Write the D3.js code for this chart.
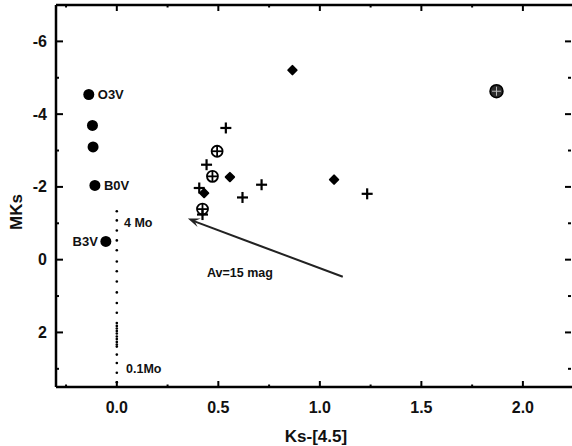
<!DOCTYPE html>
<html><head><meta charset="utf-8">
<script src="https://cdn.jsdelivr.net/npm/d3@7"></script>
<style>body{margin:0;background:#fff}svg{display:block}text{font-family:"Liberation Sans",Arial,sans-serif;font-weight:bold;fill:#111}</style>
</head><body><div id="chart"></div>
<script>
// Main-sequence stars (filled circles)
const msX = [-0.138, -0.12, -0.117, -0.108, -0.054];
const msY = [-4.54, -3.69, -3.10, -2.04, -0.50];
const msLabels = ["O3V", "", "", "B0V", "B3V"];
// Pre-main-sequence track at Ks-[4.5]=0 (dotted)
const pmsY = [-1.33, -1.08, -0.80, -0.53, -0.26, 0.05, 0.32, 0.60, 0.90, 1.19, 1.46, 1.74, 1.82, 1.89, 1.96, 2.03, 2.11, 2.18, 2.26, 2.33, 2.39, 2.61, 2.84, 3.11, 3.37];
// Plus sources
const plusX = [0.537, 0.442, 0.406, 0.422, 0.619, 0.713, 1.233];
const plusY = [-3.62, -2.61, -1.97, -1.24, -1.71, -2.06, -1.81];
// Circled-plus sources
const cplusX = [0.494, 0.471, 0.422];
const cplusY = [-2.98, -2.29, -1.39];
// Diamond sources
const diaX = [0.557, 0.43, 1.07, 0.865];
const diaY = [-2.27, -1.83, -2.20, -5.21];
// Large filled circled-plus
const bigX = [1.87];
const bigY = [-4.63];
// Reddening vector Av = 15 mag
const arrowFrom = [1.113, 0.47];
const arrowTo = [0.35, -1.13];
const xTicks = [0.0, 0.5, 1.0, 1.5, 2.0];
const yTicks = [-6, -4, -2, 0, 2];
const xMinor = [-0.25, 0.25, 0.75, 1.25, 1.75];
const yMinor = [-5, -3, -1, 1, 3];

const W = 572, H = 446;
const svg = d3.select("#chart").append("svg").attr("width", W).attr("height", H);
const L = 56, R = 573, T = 5, B = 387;
const x = d3.scaleLinear().domain([-0.3, 2.25]).range([L - 0.1, R + 0.65]);
const y = d3.scaleLinear().domain([-7, 3.5]).range([T, B]);

// frame
const g = svg.append("g");
g.append("line").attr("x1", L).attr("x2", L).attr("y1", T).attr("y2", B).attr("stroke", "#000").attr("stroke-width", 2.5);
g.append("line").attr("x1", L).attr("x2", W).attr("y1", B).attr("y2", B).attr("stroke", "#000").attr("stroke-width", 2.5);
g.append("line").attr("x1", L).attr("x2", W).attr("y1", T).attr("y2", T).attr("stroke", "#000").attr("stroke-width", 2.5);

// major ticks (inward) on all sides
const tk = svg.append("g").attr("stroke", "#000").attr("stroke-width", 2);
xTicks.forEach(v => {
  tk.append("line").attr("x1", x(v)).attr("x2", x(v)).attr("y1", B).attr("y2", B - 6);
  tk.append("line").attr("x1", x(v)).attr("x2", x(v)).attr("y1", T).attr("y2", T + 6);
});
yTicks.forEach(v => {
  tk.append("line").attr("x1", L).attr("x2", L + 7).attr("y1", y(v)).attr("y2", y(v));
  tk.append("line").attr("x1", 571).attr("x2", 565).attr("y1", y(v)).attr("y2", y(v));
});
xMinor.forEach(v => {
  tk.append("line").attr("x1", x(v)).attr("x2", x(v)).attr("y1", B).attr("y2", B - 2.5);
  tk.append("line").attr("x1", x(v)).attr("x2", x(v)).attr("y1", T).attr("y2", T + 2.5);
});
yMinor.forEach(v => {
  tk.append("line").attr("x1", L).attr("x2", L + 3).attr("y1", y(v)).attr("y2", y(v));
  tk.append("line").attr("x1", 571).attr("x2", 568).attr("y1", y(v)).attr("y2", y(v));
});

// tick labels
svg.append("g").selectAll("text").data(xTicks).join("text")
  .attr("x", d => x(d)).attr("y", 413).attr("text-anchor", "middle").attr("font-size", 16)
  .text(d => d.toFixed(1));
svg.append("g").selectAll("text").data(yTicks).join("text")
  .attr("x", 47).attr("y", d => y(d) + 5.5).attr("text-anchor", "end").attr("font-size", 16)
  .text(d => d < 0 ? "-" + Math.abs(d) : String(d));

// axis titles
svg.append("text").attr("x", 316).attr("y", 442).attr("text-anchor", "middle").attr("font-size", 17).text("Ks-[4.5]");
svg.append("text").attr("transform", "translate(22,212) rotate(-90)").attr("text-anchor", "middle").attr("font-size", 17).text("MKs");

// dotted track
svg.append("g").selectAll("circle").data(pmsY).join("circle")
  .attr("cx", x(0)).attr("cy", d => y(d)).attr("r", 1.3).attr("fill", "#000");
svg.append("text").attr("x", 124).attr("y", 227).attr("font-size", 12.5).text("4 Mo");
svg.append("text").attr("x", 126).attr("y", 373).attr("font-size", 12.5).text("0.1Mo");

// main sequence
svg.append("g").selectAll("circle").data(msX).join("circle")
  .attr("cx", d => x(d)).attr("cy", (d, i) => y(msY[i])).attr("r", 5.5).attr("fill", "#000");
const lbl = svg.append("g");
msLabels.forEach((t, i) => {
  if (!t) return;
  const left = t === "B3V";
  lbl.append("text").attr("x", x(msX[i]) + (left ? -8 : 9)).attr("y", y(msY[i]) + 5)
    .attr("text-anchor", left ? "end" : "start").attr("font-size", 13).text(t);
});

// plus symbols
const plusG = svg.append("g").attr("stroke", "#000").attr("stroke-width", 2.2);
plusX.forEach((v, i) => {
  const cx = x(v), cy = y(plusY[i]);
  plusG.append("line").attr("x1", cx - 5.5).attr("x2", cx + 5.5).attr("y1", cy).attr("y2", cy);
  plusG.append("line").attr("x1", cx).attr("x2", cx).attr("y1", cy - 5.5).attr("y2", cy + 5.5);
});

// circled plus
const cpG = svg.append("g").attr("stroke", "#000").attr("stroke-width", 1.8).attr("fill", "none");
cplusX.forEach((v, i) => {
  const cx = x(v), cy = y(cplusY[i]);
  cpG.append("circle").attr("cx", cx).attr("cy", cy).attr("r", 5.5);
  cpG.append("line").attr("x1", cx - 5.5).attr("x2", cx + 5.5).attr("y1", cy).attr("y2", cy);
  cpG.append("line").attr("x1", cx).attr("x2", cx).attr("y1", cy - 5.5).attr("y2", cy + 5.5);
});

// diamonds (rounded blobs)
svg.append("g").selectAll("path").data(diaX).join("path")
  .attr("d", d3.symbol().type(d3.symbolDiamond2).size(45))
  .attr("transform", (d, i) => `translate(${x(d)},${y(diaY[i])})`)
  .attr("fill", "#000").attr("stroke", "#000").attr("stroke-width", 2).attr("stroke-linejoin", "round");

// big circled plus
bigX.forEach((v, i) => {
  const cx = x(v), cy = y(bigY[i]);
  svg.append("circle").attr("cx", cx).attr("cy", cy).attr("r", 6.5).attr("fill", "#2a2a2a").attr("stroke", "#000").attr("stroke-width", 1.5);
  svg.append("line").attr("x1", cx - 4.5).attr("x2", cx + 4.5).attr("y1", cy).attr("y2", cy).attr("stroke", "#bbb").attr("stroke-width", 1);
  svg.append("line").attr("x1", cx).attr("x2", cx).attr("y1", cy - 4.5).attr("y2", cy + 4.5).attr("stroke", "#bbb").attr("stroke-width", 1);
});

// reddening arrow
const x1 = x(arrowFrom[0]), y1 = y(arrowFrom[1]), x2 = x(arrowTo[0]), y2 = y(arrowTo[1]);
svg.append("line").attr("x1", x1).attr("y1", y1).attr("x2", x2 + 6).attr("y2", y2 + 2.6).attr("stroke", "#222").attr("stroke-width", 2);
const ang = Math.atan2(y2 - y1, x2 - x1);
const hl = 12, hw = 4.5;
const bx = x2 - hl * Math.cos(ang), by = y2 - hl * Math.sin(ang);
const px = -Math.sin(ang) * hw, py = Math.cos(ang) * hw;
svg.append("path").attr("d", `M${x2},${y2}L${bx + px},${by + py}L${bx + 0.4*(x2-bx)},${by + 0.4*(y2-by)}L${bx - px},${by - py}Z`).attr("fill", "#222");
svg.append("text").attr("x", 207).attr("y", 277).attr("font-size", 12.5).text("Av=15 mag");
</script></body></html>
